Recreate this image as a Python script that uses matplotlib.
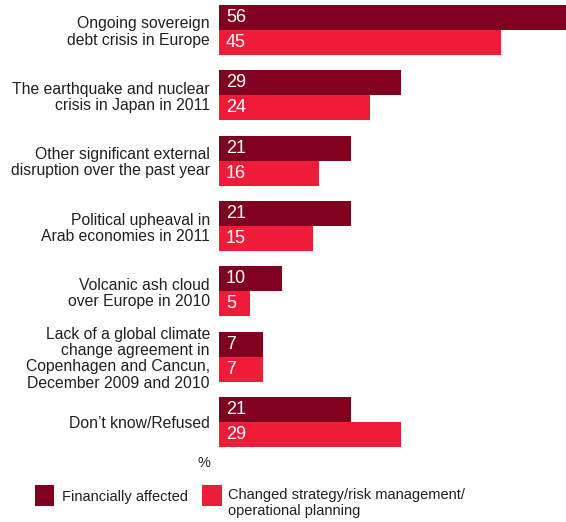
import matplotlib
matplotlib.use("Agg")
import matplotlib.pyplot as plt
from matplotlib.patches import Rectangle
import numpy as np

plt.rcParams['font.family'] = ['Liberation Sans', 'DejaVu Sans']

categories = [
    "Ongoing sovereign\ndebt crisis in Europe",
    "The earthquake and nuclear\ncrisis in Japan in 2011",
    "Other significant external\ndisruption over the past year",
    "Political upheaval in\nArab economies in 2011",
    "Volcanic ash cloud\nover Europe in 2010",
    "Lack of a global climate\nchange agreement in\nCopenhagen and Cancun,\nDecember 2009 and 2010",
    "Don\u2019t know/Refused",
]
financially = [56, 29, 21, 21, 10, 7, 21]
changed = [45, 24, 16, 15, 5, 7, 29]
series_names = ["Financially affected", "Changed strategy/risk management/\noperational planning"]

dark = "#800020"
bright = "#EE1C39"
txt = "#231F20"

W, H = 566, 522
fig = plt.figure(figsize=(W / 100, H / 100), dpi=100)
ax = fig.add_axes([219 / W, 1 - 447 / H, (W - 219) / W, (447 - 5) / H])

y = np.arange(len(categories))
h = 0.382
ax.barh(y - h / 2, financially, height=h, color=dark)
ax.barh(y + h / 2, changed, height=h, color=bright)

for yi, v in zip(y, financially):
    ax.annotate(str(v), (0, yi - h / 2), xytext=(5, 0), textcoords="offset points",
                va="center", ha="left", color="white", fontsize=13)
for yi, v in zip(y, changed):
    ax.annotate(str(v), (0, yi + h / 2), xytext=(5, 0), textcoords="offset points",
                va="center", ha="left", color="white", fontsize=13)

ax.set_xlim(0, 55.3)
ax.set_ylim(len(categories) - 1 + h, -h)
ax.set_yticks(y)
ax.set_yticklabels(categories, fontsize=11.3, color=txt, ha="right", linespacing=1.1)
ax.tick_params(axis="y", length=0, pad=6.5)
ax.set_xticks([])
for s in ax.spines.values():
    s.set_visible(False)

fig.text(197 / W, 1 - 463 / H, "%", fontsize=10.5, color=txt, ha="left", va="center")

# legend
fig.patches.append(Rectangle((35 / W, 1 - 506 / H), 19 / W, 21 / H, transform=fig.transFigure,
                             facecolor=dark, edgecolor="none"))
fig.text(62 / W, 1 - 497 / H, series_names[0], fontsize=10.5, color=txt, ha="left", va="center")
fig.patches.append(Rectangle((202 / W, 1 - 506 / H), 20 / W, 21 / H, transform=fig.transFigure,
                             facecolor=bright, edgecolor="none"))
fig.text(228 / W, 1 - 488 / H, series_names[1], fontsize=10.5, color=txt, ha="left", va="top",
         linespacing=1.2)

fig.savefig("out.png", dpi=100)
